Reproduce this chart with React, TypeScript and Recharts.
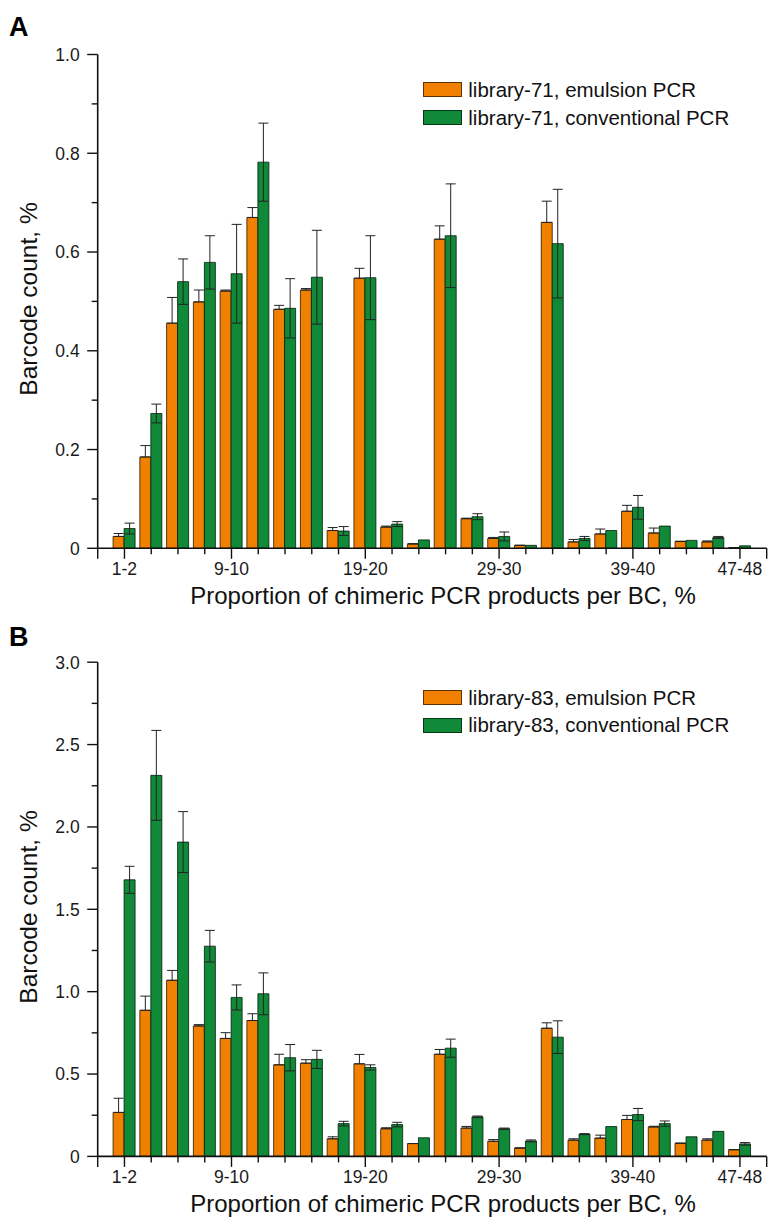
import { Bar, BarChart, ErrorBar, Legend, XAxis, YAxis } from 'recharts'

const ranges = [
  '1-2', '3-4', '5-6', '7-8', '9-10', '11-12', '13-14', '15-16', '17-18', '19-20', '21-22', '23-24',
  '25-26', '27-28', '29-30', '31-32', '33-34', '35-36', '37-38', '39-40', '41-42', '43-44', '45-46', '47-48',
]
const labeledRanges = ['1-2', '9-10', '19-20', '29-30', '39-40', '47-48']

// library-71
const emulsion71 = [0.024, 0.185, 0.456, 0.499, 0.521, 0.670, 0.484, 0.523, 0.036, 0.547, 0.043, 0.009, 0.626, 0.060, 0.020, 0.006, 0.660, 0.013, 0.029, 0.075, 0.031, 0.014, 0.013, 0.001]
const emulsion71Err = [0.006, 0.023, 0.052, 0.024, 0.002, 0.020, 0.008, 0.003, 0.006, 0.020, 0.002, 0, 0.027, 0.001, 0.002, 0, 0.043, 0.005, 0.010, 0.012, 0.010, 0, 0.002, 0]
const conventional71 = [0.040, 0.273, 0.540, 0.579, 0.556, 0.782, 0.486, 0.549, 0.035, 0.548, 0.049, 0.017, 0.633, 0.064, 0.024, 0.006, 0.617, 0.020, 0.036, 0.083, 0.045, 0.016, 0.022, 0.005]
const conventional71Err = [0.011, 0.019, 0.046, 0.054, 0.100, 0.079, 0.060, 0.095, 0.009, 0.085, 0.005, 0, 0.105, 0.006, 0.009, 0, 0.110, 0.004, 0, 0.024, 0, 0, 0.002, 0]

// library-83
const emulsion83 = [0.267, 0.887, 1.069, 0.792, 0.716, 0.825, 0.556, 0.566, 0.107, 0.562, 0.168, 0.078, 0.620, 0.172, 0.092, 0.051, 0.778, 0.099, 0.111, 0.224, 0.179, 0.080, 0.099, 0.041]
const emulsion83Err = [0.086, 0.086, 0.060, 0.008, 0.035, 0.041, 0.064, 0.021, 0.012, 0.057, 0.006, 0, 0.029, 0.010, 0.010, 0, 0.033, 0.008, 0.018, 0.025, 0.004, 0, 0.008, 0]
const conventional83 = [1.679, 2.313, 1.908, 1.276, 0.965, 0.987, 0.599, 0.589, 0.199, 0.540, 0.193, 0.113, 0.657, 0.240, 0.168, 0.094, 0.724, 0.135, 0.181, 0.254, 0.199, 0.119, 0.152, 0.076]
const conventional83Err = [0.082, 0.273, 0.185, 0.096, 0.076, 0.127, 0.080, 0.055, 0.014, 0.016, 0.014, 0, 0.055, 0.005, 0.004, 0.006, 0.099, 0.003, 0, 0.037, 0.016, 0, 0, 0.008]

const ticksA = [0, 0.1, 0.2, 0.3, 0.4, 0.5, 0.6, 0.7, 0.8, 0.9, 1.0]
const ticksB = [0, 0.25, 0.5, 0.75, 1.0, 1.25, 1.5, 1.75, 2.0, 2.25, 2.5, 2.75, 3.0]

const seriesOrder = ['emulsion', 'conventional']

const ORANGE = '#F28000'
const GREEN = '#108A38'
const INK = '#111'
const FONT = '"Liberation Sans", Arial, Helvetica, sans-serif'

const W = 769
const H = 610
const PLOT_LEFT = 97.7
const PLOT_RIGHT = 766.7
const STEP = (PLOT_RIGHT - PLOT_LEFT) / 25
const Y_AXIS_W = 60
const X_AXIS_H = 50

function buildRows(em: number[], emErr: number[], conv: number[], convErr: number[]) {
  // emulsion error bars only show the upper whisker in the original
  return ranges.map((range, i) => ({
    range,
    emulsion: em[i],
    emulsionErr: [0, emErr[i]],
    conventional: conv[i],
    conventionalErr: convErr[i],
  }))
}

function XTick(props: any) {
  const { x, y, payload, index } = props
  const major = labeledRanges.includes(payload.value)
  const len = major ? 10.5 : 6
  return (
    <g>
      <line x1={x} y1={y} x2={x} y2={y + len} stroke={INK} strokeWidth={1.4} />
      {index === 0 && <line x1={x - STEP} y1={y} x2={x - STEP} y2={y + 10.5} stroke={INK} strokeWidth={1.4} />}
      {index === ranges.length - 1 && (
        <line x1={x + STEP} y1={y} x2={x + STEP} y2={y + 10.5} stroke={INK} strokeWidth={1.4} />
      )}
      {major && (
        <text x={x} y={y + 26.5} textAnchor="middle" fontSize={17.5} fill="#1a1a1a">
          {payload.value}
        </text>
      )}
    </g>
  )
}

function makeYTick(isMajor: (v: number) => boolean) {
  return function YTick(props: any) {
    const { x, y, payload } = props
    const v = payload.value as number
    const major = isMajor(v)
    return (
      <g>
        <line x1={x - (major ? 10.5 : 6)} y1={y} x2={x} y2={y} stroke={INK} strokeWidth={1.4} />
        {major && (
          <text x={x - 18} y={y + 6.3} textAnchor="end" fontSize={17.5} fill="#1a1a1a">
            {v === 0 ? '0' : v.toFixed(1)}
          </text>
        )}
      </g>
    )
  }
}

function LegendBox({ payload }: any) {
  const items = [...(payload || [])].sort(
    (a: any, b: any) => seriesOrder.indexOf(a.dataKey) - seriesOrder.indexOf(b.dataKey),
  )
  return (
    <div style={{ fontFamily: FONT }}>
      {items.map((p: any) => (
        <div key={p.value} style={{ display: 'flex', alignItems: 'center', height: 27.7 }}>
          <div
            style={{
              width: 39,
              height: 15,
              boxSizing: 'border-box',
              background: p.color,
              border: '1.5px solid rgba(0,0,0,0.6)',
              marginRight: 6,
            }}
          />
          <span style={{ fontSize: 20.5, color: '#111', lineHeight: '27.7px', whiteSpace: 'nowrap' }}>{p.value}</span>
        </div>
      ))}
    </div>
  )
}

function PanelTitles({ letter, xTitleY, yTitleY }: { letter: string; xTitleY: number; yTitleY: number }) {
  return (
    <g style={{ fontFamily: FONT }}>
      <text x={9} y={35.7} fontSize={27} fontWeight={700} fill="#000">
        {letter}
      </text>
      <text transform={`translate(36.7, ${yTitleY}) rotate(-90)`} textAnchor="middle" fontSize={24.5} fill="#111">
        Barcode count, %
      </text>
      <text x={443} y={xTitleY} textAnchor="middle" fontSize={24} fill="#111">
        Proportion of chimeric PCR products per BC, %
      </text>
    </g>
  )
}

interface PanelProps {
  letter: string
  library: string
  rows: ReturnType<typeof buildRows>
  yMax: number
  ticks: number[]
  isMajor: (v: number) => boolean
  plotTop: number
  plotBottom: number
  legendTop: number
  xTitleY: number
  yTitleY: number
}

function Panel(p: PanelProps) {
  const YTick = makeYTick(p.isMajor)
  return (
    <BarChart
      width={W}
      height={H}
      data={p.rows}
      barGap={0}
      margin={{
        top: p.plotTop,
        right: W - PLOT_RIGHT,
        left: PLOT_LEFT - Y_AXIS_W,
        bottom: H - p.plotBottom - X_AXIS_H,
      }}
    >
      <XAxis
        dataKey="range"
        type="category"
        interval={0}
        height={X_AXIS_H}
        padding={{ left: STEP / 2, right: STEP / 2 }}
        axisLine={{ stroke: INK, strokeWidth: 1.6 }}
        tickLine={false}
        tickSize={0}
        tickMargin={0}
        tick={<XTick />}
        label={<PanelTitles letter={p.letter} xTitleY={p.xTitleY} yTitleY={p.yTitleY} />}
      />
      <YAxis
        type="number"
        domain={[0, p.yMax]}
        ticks={p.ticks}
        interval={0}
        width={Y_AXIS_W}
        allowDataOverflow
        axisLine={{ stroke: INK, strokeWidth: 1.6 }}
        tickLine={false}
        tickSize={0}
        tickMargin={0}
        tick={<YTick />}
      />
      <Legend
        layout="vertical"
        align="center"
        verticalAlign="middle"
        content={<LegendBox />}
        wrapperStyle={{ left: 423.3, top: p.legendTop, width: 340 }}
      />
      <Bar
        dataKey="emulsion"
        name={`${p.library}, emulsion PCR`}
        fill={ORANGE}
        stroke="rgba(40,25,0,0.8)"
        strokeWidth={1}
        barSize={11}
        isAnimationActive={false}
      >
        <ErrorBar dataKey="emulsionErr" direction="y" width={5} stroke="#222" strokeWidth={1} />
      </Bar>
      <Bar
        dataKey="conventional"
        name={`${p.library}, conventional PCR`}
        fill={GREEN}
        stroke="rgba(0,30,10,0.8)"
        strokeWidth={1}
        barSize={11}
        isAnimationActive={false}
      >
        <ErrorBar dataKey="conventionalErr" direction="y" width={5} stroke="#222" strokeWidth={1} />
      </Bar>
    </BarChart>
  )
}

export default function App() {
  const rowsA = buildRows(emulsion71, emulsion71Err, conventional71, conventional71Err)
  const rowsB = buildRows(emulsion83, emulsion83Err, conventional83, conventional83Err)
  return (
    <div style={{ position: 'absolute', left: 0, top: 0, width: W, height: 1220, background: '#fff', fontFamily: FONT }}>
      <div style={{ position: 'absolute', left: 0, top: 0 }}>
        <Panel
          letter="A"
          library="library-71"
          rows={rowsA}
          yMax={1}
          ticks={ticksA}
          isMajor={(v) => Math.round(v * 10) % 2 === 0}
          plotTop={54.5}
          plotBottom={548.3}
          legendTop={75.9}
          xTitleY={604}
          yTitleY={299}
        />
      </div>
      <div style={{ position: 'absolute', left: 0, top: H }}>
        <Panel
          letter="B"
          library="library-83"
          rows={rowsB}
          yMax={3}
          ticks={ticksB}
          isMajor={(v) => Math.round(v * 4) % 2 === 0}
          plotTop={52.2}
          plotBottom={546.4}
          legendTop={73.6}
          xTitleY={602.1}
          yTitleY={297}
        />
      </div>
    </div>
  )
}
